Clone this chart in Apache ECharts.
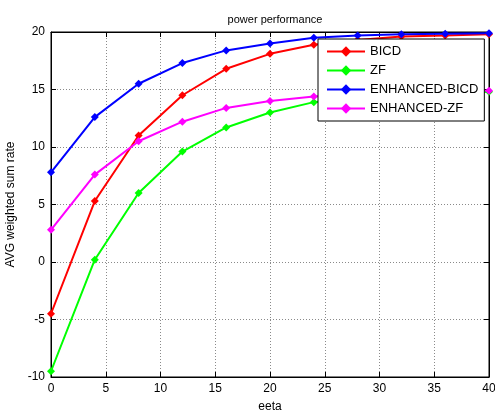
<!DOCTYPE html>
<html>
<head>
<meta charset="utf-8">
<script src="https://cdn.jsdelivr.net/npm/echarts@6/dist/echarts.min.js"></script>
<style>
  html, body { margin: 0; padding: 0; background: #fff; }
  #chart { width: 495px; height: 410px; }
</style>
</head>
<body>
<div id="chart"></div>
<script>
const eeta = [0, 4, 8, 12, 16, 20, 24, 28, 32, 36, 40];
const bicd = [-4.5, 5.3, 11.0, 14.5, 16.8, 18.1, 18.9, 19.3, 19.6, 19.7, 19.8];
const zf = [-9.5, 0.2, 6.0, 9.6, 11.7, 13.0, 13.9, 14.3, 14.5, 14.7, 14.8];
const enhBicd = [7.8, 12.6, 15.5, 17.3, 18.4, 19.0, 19.5, 19.7, 19.8, 19.85, 19.9];
const enhZf = [2.8, 7.6, 10.5, 12.2, 13.4, 14.0, 14.4, 14.6, 14.75, 14.85, 14.9];

const font = "Liberation Sans, Arial, sans-serif";

const pairs = (ys) => eeta.map((x, i) => [x, ys[i]]);

const mkSeries = (name, color, ys) => ({
  name: name,
  type: "line",
  data: pairs(ys),
  symbol: "diamond",
  symbolSize: 8,
  lineStyle: { color: color, width: 2 },
  itemStyle: { color: color },
  z: 5,
});

const gridLine = {
  show: true,
  lineStyle: { color: "#8a8a8a", type: [1, 2], width: 1 },
};

const chart = echarts.init(document.getElementById("chart"));
chart.setOption({
  animation: false,
  backgroundColor: "#fff",
  title: {
    text: "power performance",
    left: 270,
    textAlign: "center",
    top: 9,
    textStyle: { fontFamily: font, fontSize: 11, fontWeight: "normal", color: "#000" },
  },
  grid: {
    left: 51, right: 6, top: 32, bottom: 33,
    outerBoundsMode: "none",
    containLabel: false,
    show: true, borderColor: "#000", borderWidth: 1,
  },
  legend: {
    orient: "vertical",
    left: 318, top: 39,
    z: 20,
    padding: [6, 6, 6, 8],
    itemGap: 6,
    itemWidth: 38, itemHeight: 13,
    backgroundColor: "#fff",
    borderColor: "#000", borderWidth: 1,
    textStyle: { fontFamily: font, fontSize: 13, color: "#000" },
    data: ["BICD", "ZF", "ENHANCED-BICD", "ENHANCED-ZF"],
  },
  xAxis: [
    {
      type: "value", min: 0, max: 40, interval: 5,
      name: "eeta", nameLocation: "middle", nameGap: 24,
      nameTextStyle: { fontFamily: font, fontSize: 12, color: "#000" },
      axisLine: { show: true, onZero: false, lineStyle: { color: "#000" } },
      axisTick: { show: true, inside: true, length: 5, lineStyle: { color: "#000" } },
      axisLabel: { fontFamily: font, fontSize: 12, color: "#000", margin: 6 },
      splitLine: gridLine,
    },
    {
      type: "value", min: 0, max: 40, interval: 5, position: "top",
      axisLine: { show: true, onZero: false, lineStyle: { color: "#000" } },
      axisTick: { show: true, inside: true, length: 5, lineStyle: { color: "#000" } },
      axisLabel: { show: false },
      splitLine: { show: false },
    },
  ],
  yAxis: [
    {
      type: "value", min: -10, max: 20, interval: 5,
      name: "AVG weighted sum rate", nameLocation: "middle", nameGap: 29,
      nameTextStyle: { fontFamily: font, fontSize: 12, color: "#000" },
      axisLine: { show: true, onZero: false, lineStyle: { color: "#000" } },
      axisTick: { show: true, inside: true, length: 5, lineStyle: { color: "#000" } },
      axisLabel: { fontFamily: font, fontSize: 12, color: "#000", margin: 6 },
      splitLine: gridLine,
    },
    {
      type: "value", min: -10, max: 20, interval: 5, position: "right",
      axisLine: { show: true, onZero: false, lineStyle: { color: "#000" } },
      axisTick: { show: true, inside: true, length: 5, lineStyle: { color: "#000" } },
      axisLabel: { show: false },
      splitLine: { show: false },
    },
  ],
  series: [
    mkSeries("BICD", "#ff0000", bicd),
    mkSeries("ZF", "#00ff00", zf),
    mkSeries("ENHANCED-BICD", "#0000ff", enhBicd),
    mkSeries("ENHANCED-ZF", "#ff00ff", enhZf),
  ],
});
</script>
</body>
</html>
